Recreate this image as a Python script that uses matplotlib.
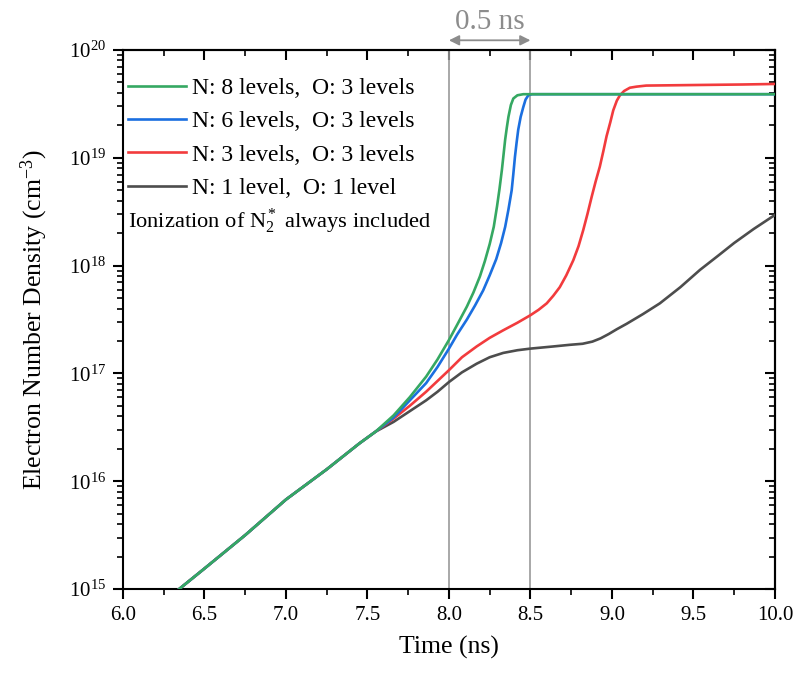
import numpy as np
import matplotlib
matplotlib.use('Agg')
import matplotlib.pyplot as plt
from matplotlib.ticker import MultipleLocator, LogLocator, FixedLocator, NullFormatter, FuncFormatter

plt.rcParams['font.family'] = ['Liberation Serif', 'DejaVu Serif']
plt.rcParams['mathtext.fontset'] = 'custom'
plt.rcParams['mathtext.rm'] = 'Liberation Serif'
plt.rcParams['mathtext.it'] = 'Liberation Serif:italic'
plt.rcParams['mathtext.bf'] = 'Liberation Serif:bold'

# shared early part (all models overlap), time in ns, log10 density
t_common = [6.345, 6.5, 6.75, 7.0, 7.25, 7.45, 7.55]
log_common = [15.0, 15.19, 15.50, 15.83, 16.11, 16.35, 16.46]

t_n8 = [7.66, 7.76, 7.86, 7.93, 8.0, 8.05, 8.11, 8.15, 8.19, 8.22, 8.25, 8.275, 8.295, 8.31, 8.325,
        8.335, 8.345, 8.355, 8.365, 8.38, 8.395, 8.42, 8.456, 10.0]
log_n8 = [16.61, 16.78, 16.97, 17.13, 17.31, 17.45, 17.62, 17.75, 17.90, 18.04, 18.20, 18.36, 18.55, 18.71, 18.89,
          19.03, 19.17, 19.28, 19.38, 19.49, 19.55, 19.58, 19.59, 19.59]

t_n6 = [7.66, 7.76, 7.86, 7.93, 8.0, 8.05, 8.11, 8.16, 8.21, 8.25, 8.29, 8.32, 8.345, 8.365, 8.385,
        8.395, 8.405, 8.415, 8.425, 8.44, 8.456, 8.47, 8.487, 8.51, 10.0]
log_n6 = [16.59, 16.75, 16.91, 17.06, 17.23, 17.36, 17.50, 17.63, 17.77, 17.91, 18.06, 18.21, 18.36, 18.52, 18.70,
          18.85, 19.01, 19.14, 19.26, 19.38, 19.47, 19.54, 19.58, 19.59, 19.59]

t_n3 = [7.66, 7.76, 7.86, 7.93, 8.0, 8.08, 8.17, 8.25, 8.333, 8.42, 8.5, 8.55, 8.60, 8.64, 8.68, 8.72, 8.763,
        8.795, 8.824, 8.85, 8.876, 8.90, 8.926, 8.947, 8.967, 8.99, 9.008, 9.03, 9.049, 9.075, 9.11, 9.15,
        9.21, 9.5, 9.8, 10.0]
log_n3 = [16.58, 16.70, 16.83, 16.93, 17.03, 17.15, 17.25, 17.33, 17.40, 17.47, 17.54, 17.59, 17.65, 17.72, 17.80, 17.91, 18.05,
          18.18, 18.33, 18.48, 18.64, 18.78, 18.92, 19.06, 19.20, 19.33, 19.44, 19.53, 19.58, 19.62, 19.65, 19.66,
          19.67, 19.675, 19.68, 19.685]

t_n1 = [7.66, 7.76, 7.86, 7.93, 8.0, 8.08, 8.17, 8.25, 8.333, 8.42, 8.5, 8.57, 8.64, 8.74, 8.82, 8.88, 8.93,
        8.98, 9.03, 9.09, 9.19, 9.294, 9.42, 9.54, 9.65, 9.75, 9.87, 10.0]
log_n1 = [16.55, 16.65, 16.75, 16.83, 16.92, 17.01, 17.09, 17.15, 17.19, 17.215, 17.23, 17.24, 17.25, 17.265, 17.275, 17.295, 17.325,
          17.365, 17.41, 17.46, 17.55, 17.65, 17.80, 17.96, 18.09, 18.21, 18.34, 18.47]

labels = ['N: 8 levels,  O: 3 levels', 'N: 6 levels,  O: 3 levels',
          'N: 3 levels,  O: 3 levels', 'N: 1 level,  O: 1 level']
colours = ['#35a862', '#1b6fe0', '#f23b3d', '#4d4d4d']
series = [(t_n8, log_n8), (t_n6, log_n6), (t_n3, log_n3), (t_n1, log_n1)]

fig = plt.figure(figsize=(7.97, 6.73), dpi=100)
ax = fig.add_axes([0.1543, 0.1248, 0.818, 0.8009])

ax.axvline(8.0, color='#999999', lw=1.2, zorder=1)
ax.axvline(8.5, color='#999999', lw=1.2, zorder=1)

# draw in reverse so green sits on top
for i in range(len(series) - 1, -1, -1):
    t = np.array(t_common + series[i][0])
    y = 10 ** np.array(log_common + series[i][1])
    ax.plot(t, y, color=colours[i], lw=1.9, label=labels[i], zorder=3 + (4 - i),
            solid_joinstyle='round')

ax.set_yscale('log')
ax.set_xlim(6.0, 10.0)
ax.set_ylim(1e15, 1e20)

ax.xaxis.set_major_locator(MultipleLocator(0.5))
ax.xaxis.set_minor_locator(MultipleLocator(0.25))
ax.xaxis.set_major_formatter(FuncFormatter(lambda v, p: '%.1f' % v))
ax.yaxis.set_major_locator(FixedLocator([10.0 ** k for k in range(15, 21)]))
ax.yaxis.set_minor_locator(LogLocator(base=10, subs=np.arange(2, 10), numticks=20))
ax.yaxis.set_minor_formatter(NullFormatter())
ax.yaxis.set_major_formatter(FuncFormatter(lambda v, p: r'$10^{%d}$' % round(np.log10(v))))

ax.tick_params(which='major', direction='out', length=7, width=1.5, labelsize=15, pad=5)
ax.tick_params(which='minor', direction='out', length=4, width=1.2)
for s in ax.spines.values():
    s.set_linewidth(1.5)

# mirrored ticks pointing inwards on top and right
top = ax.secondary_xaxis('top')
top.xaxis.set_major_locator(MultipleLocator(0.5))
top.xaxis.set_minor_locator(MultipleLocator(0.25))
top.tick_params(which='major', direction='in', length=7, width=1.5, labeltop=False)
top.tick_params(which='minor', direction='in', length=4, width=1.2)
top.spines['top'].set_linewidth(1.5)

right = ax.secondary_yaxis('right')
right.set_yscale('log')
right.yaxis.set_major_locator(FixedLocator([10.0 ** k for k in range(15, 21)]))
right.yaxis.set_minor_locator(LogLocator(base=10, subs=np.arange(2, 10), numticks=20))
right.tick_params(which='major', direction='in', length=7, width=1.5, labelright=False)
right.tick_params(which='minor', direction='in', length=4, width=1.2)
right.yaxis.set_minor_formatter(NullFormatter())
right.spines['right'].set_linewidth(1.5)

ax.set_xlabel('Time (ns)', fontsize=18.5, labelpad=8)
ax.set_ylabel('Electron Number Density (cm$^{-3}$)', fontsize=18.5, labelpad=14)

handles, labs = ax.get_legend_handles_labels()
ax.legend(handles[::-1], labs[::-1], loc='upper left', bbox_to_anchor=(-0.017, 0.98),
          frameon=False, fontsize=17, handlelength=2.45, handletextpad=0.25,
          labelspacing=0.5, borderaxespad=0.3)
ax.text(0.007, 0.681, 'Ionization of N$_2^*$ always included', transform=ax.transAxes,
        fontsize=16.2, va='center', ha='left')

ax.annotate('', xy=(8.0, 1.018), xytext=(8.5, 1.018),
            xycoords=('data', 'axes fraction'), textcoords=('data', 'axes fraction'),
            arrowprops=dict(arrowstyle='<|-|>', color='#8c8c8c', lw=1.3, shrinkA=0, shrinkB=0,
                            mutation_scale=15),
            annotation_clip=False)
ax.text(8.25, 1.052, '0.5 ns', transform=ax.get_xaxis_transform(), ha='center', va='center',
        fontsize=21, color='#8c8c8c')

plt.savefig('out.png', dpi=100)
